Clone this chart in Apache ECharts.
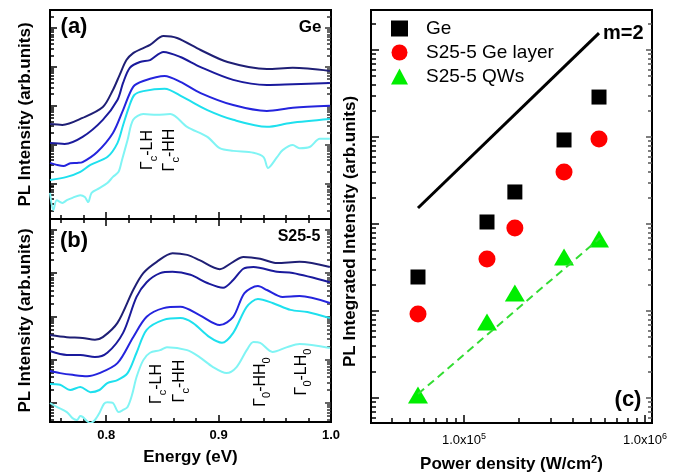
<!DOCTYPE html>
<html>
<head>
<meta charset="utf-8">
<script src="https://cdn.jsdelivr.net/npm/echarts@6/dist/echarts.min.js"></script>
<style>
  html, body { margin: 0; padding: 0; background: #fff; }
  #main { width: 687px; height: 472px; }
</style>
</head>
<body>
<div id="main"></div>
<script>
// spectra: [energy (eV), log10 PL intensity (arb.units)]
// (a) Ge, top curve first
const geSpec1 = [[0.750, 2.53], [0.761, 2.51], [0.779, 2.69], [0.797, 2.97], [0.806, 3.41], [0.812, 3.80], [0.818, 4.18], [0.824, 4.36], [0.833, 4.49], [0.839, 4.57], [0.851, 4.80], [0.863, 4.75], [0.884, 4.44], [0.908, 4.13], [0.943, 3.95], [0.966, 3.98], [0.999, 3.90]];
const geSpec2 = [[0.750, 2.04], [0.763, 2.02], [0.779, 2.20], [0.797, 2.64], [0.810, 3.15], [0.815, 3.59], [0.821, 3.98], [0.830, 4.13], [0.839, 4.18], [0.851, 4.39], [0.866, 4.26], [0.884, 4.00], [0.913, 3.67], [0.943, 3.54], [0.966, 3.56], [0.999, 3.59]];
const geSpec3 = [[0.750, 1.53], [0.756, 1.48], [0.762, 1.45], [0.768, 1.52], [0.774, 1.53], [0.779, 1.55], [0.792, 1.81], [0.806, 2.30], [0.815, 2.89], [0.824, 3.49], [0.833, 3.64], [0.852, 3.77], [0.866, 3.62], [0.884, 3.33], [0.913, 3.02], [0.943, 2.87], [0.966, 2.95], [0.999, 3.00]];
const geSpec4 = [[0.750, 1.09], [0.765, 1.17], [0.777, 1.30], [0.786, 1.48], [0.801, 1.68], [0.810, 2.04], [0.815, 2.50], [0.820, 2.95], [0.825, 3.28], [0.833, 3.38], [0.852, 3.44], [0.868, 3.23], [0.890, 2.89], [0.913, 2.64], [0.943, 2.46], [0.964, 2.56], [0.999, 2.66]];
const geSpec5 = [[0.750, 0.76], [0.753, 0.32], [0.756, 0.57], [0.761, 0.50], [0.765, 0.57], [0.770, 0.63], [0.777, 0.70], [0.781, 0.65], [0.784, 0.52], [0.787, 0.76], [0.794, 0.88], [0.801, 1.01], [0.806, 1.17], [0.811, 1.30], [0.814, 1.60], [0.819, 2.12], [0.824, 2.64], [0.833, 2.79], [0.845, 2.77], [0.857, 2.79], [0.872, 2.46], [0.890, 2.20], [0.901, 1.91], [0.913, 1.84], [0.931, 1.79], [0.940, 1.68], [0.944, 1.40], [0.952, 1.68], [0.957, 1.86], [0.966, 1.99], [0.972, 1.91], [0.981, 1.94], [0.990, 2.15], [0.999, 2.15]];
// (b) S25-5
const s25Spec1 = [[0.750, 2.57], [0.765, 2.52], [0.779, 2.50], [0.790, 2.46], [0.797, 2.52], [0.810, 2.85], [0.824, 3.61], [0.833, 4.00], [0.845, 4.26], [0.859, 4.46], [0.872, 4.42], [0.883, 4.30], [0.901, 4.09], [0.913, 4.26], [0.922, 4.37], [0.937, 4.33], [0.952, 4.23], [0.972, 4.26], [0.999, 4.14]];
const s25Spec2 = [[0.750, 2.20], [0.765, 2.11], [0.777, 2.11], [0.790, 2.06], [0.801, 2.16], [0.815, 2.62], [0.827, 3.45], [0.836, 3.79], [0.848, 4.00], [0.859, 4.03], [0.875, 3.96], [0.890, 3.77], [0.904, 3.66], [0.913, 3.84], [0.922, 4.10], [0.931, 4.14], [0.952, 4.03], [0.966, 4.00], [0.999, 3.79]];
const s25Spec3 = [[0.750, 1.74], [0.759, 1.69], [0.770, 1.65], [0.783, 1.62], [0.794, 1.69], [0.810, 1.92], [0.824, 2.52], [0.836, 2.99], [0.851, 3.19], [0.866, 3.22], [0.883, 3.03], [0.901, 2.80], [0.913, 2.99], [0.923, 3.54], [0.935, 3.70], [0.943, 3.61], [0.957, 3.45], [0.972, 3.47], [0.999, 3.31]];
const s25Spec4 = [[0.750, 1.44], [0.759, 1.42], [0.768, 1.30], [0.777, 1.37], [0.786, 1.25], [0.794, 1.30], [0.801, 1.46], [0.810, 1.53], [0.819, 1.69], [0.827, 2.16], [0.836, 2.69], [0.851, 2.92], [0.866, 2.96], [0.877, 2.85], [0.892, 2.52], [0.903, 2.39], [0.913, 2.62], [0.925, 3.22], [0.935, 3.40], [0.948, 3.31], [0.964, 3.15], [0.979, 3.10], [0.999, 2.96]];
const s25Spec5 = [[0.750, 1.00], [0.756, 0.91], [0.765, 0.79], [0.770, 0.65], [0.774, 0.61], [0.777, 0.70], [0.779, 0.68], [0.783, 0.58], [0.786, 0.54], [0.790, 0.61], [0.794, 0.77], [0.798, 0.98], [0.801, 1.02], [0.806, 1.00], [0.811, 0.79], [0.815, 0.84], [0.819, 0.91], [0.823, 1.19], [0.827, 1.60], [0.833, 1.99], [0.839, 2.16], [0.848, 2.22], [0.854, 2.29], [0.872, 2.22], [0.883, 2.06], [0.895, 1.83], [0.907, 1.69], [0.916, 1.83], [0.925, 2.22], [0.931, 2.41], [0.937, 2.39], [0.948, 2.18], [0.961, 2.29], [0.972, 2.36], [0.999, 2.27]];

// (c) integrated intensity vs power density
const powerDensity = [55700, 134000, 191000, 357000, 557000];
const geInt = [246, 1055, 2335, 9250, 28800];
const geLayerInt = [92.5, 396, 900, 3960, 9480];
const qwInt = [10.8, 74.8, 161, 418, 673];
const qwFit = [[55700, 11.1], [565000, 690]];
const slopeTwo = [[55700, 1528], [557000, 156700]];

// ticks
const energyMajor = [0.8, 0.9, 1.0];
const energyMinor = [0.76, 0.78, 0.82, 0.84, 0.86, 0.88, 0.92, 0.94, 0.96, 0.98];
const intMajor = [10, 100, 1000, 10000, 100000];
const powerMajor = [100000, 1000000];

const specColors = ['#1f1f75', '#1a1a9c', '#2424dd', '#1ee0ee', '#80f4f4'];
const font = 'Liberation Sans';

function minorLog(majors) {
  const out = [];
  [majors[0] / 10].concat(majors).forEach(function (m) {
    for (let k = 2; k <= 9; k++) out.push(m * k);
  });
  return out;
}

function tickAxis(gridIndex, position, type, min, max, ticks, len, color) {
  return {
    type: type,
    gridIndex: gridIndex,
    position: position,
    min: min,
    max: max,
    logBase: 10,
    axisLine: {show: false, onZero: false},
    axisTick: {show: true, inside: true, length: len, customValues: ticks, lineStyle: {color: color || '#000', width: 1.5}},
    axisLabel: {show: false},
    splitLine: {show: false}
  };
}

function specSeries(data, color, xi, yi) {
  return {
    type: 'line',
    xAxisIndex: xi,
    yAxisIndex: yi,
    data: data.map(function (p) { return [p[0], Math.pow(10, p[1])]; }),
    smooth: 0.3,
    symbol: 'none',
    lineStyle: {color: color, width: 2},
    silent: true
  };
}

const aMin = 1.216, aMax = 295100;
const bMin = 3.64, bMax = 177400;
const pMin = 30640, pMax = 1093000;
const cMin = 5.16, cMax = 288400;

const yTitle = {fontSize: 17, fontWeight: 'bold', color: '#000', fontFamily: font};

const xAxes = [
  tickAxis(0, 'bottom', 'value', 0.75, 1.0, energyMajor, 7),
  tickAxis(0, 'bottom', 'value', 0.75, 1.0, energyMinor, 4),
  Object.assign(tickAxis(1, 'bottom', 'value', 0.75, 1.0, energyMajor, 7), {
    name: 'Energy (eV)', nameLocation: 'middle', nameGap: 27, nameTextStyle: yTitle,
    axisLabel: {show: true, customValues: energyMajor, margin: 7, fontSize: 13, fontWeight: 'bold', color: '#000', fontFamily: font,
      formatter: function (v) { return v.toFixed(1); }}
  }),
  tickAxis(1, 'bottom', 'value', 0.75, 1.0, energyMinor, 4),
  tickAxis(1, 'top', 'value', 0.75, 1.0, energyMajor, 7),
  tickAxis(1, 'top', 'value', 0.75, 1.0, energyMinor, 4),
  Object.assign(tickAxis(2, 'bottom', 'log', pMin, pMax, powerMajor, 8), {
    name: 'Power density (W/cm{s|2})', nameLocation: 'middle', nameGap: 31,
    nameTextStyle: Object.assign({lineHeight: 20, rich: {s: {fontSize: 11, fontWeight: 'bold', verticalAlign: 'top', lineHeight: 11, fontFamily: font}}}, yTitle),
    axisLabel: {show: true, customValues: powerMajor, margin: 9, fontSize: 13, color: '#000', fontFamily: font, lineHeight: 16,
      formatter: function (v) { return '1.0x10{s|' + Math.round(Math.log10(v)) + '}'; },
      rich: {s: {fontSize: 9, verticalAlign: 'top', lineHeight: 8, fontFamily: font}}}
  }),
  tickAxis(2, 'bottom', 'log', pMin, pMax, minorLog(powerMajor), 5)
];

const yAxes = [
  Object.assign(tickAxis(0, 'left', 'log', aMin, aMax, intMajor, 7), {
    name: 'PL Intensity (arb.units)', nameLocation: 'middle', nameGap: 16, nameTextStyle: yTitle
  }),
  tickAxis(0, 'left', 'log', aMin, aMax, minorLog(intMajor), 4),
  tickAxis(0, 'right', 'log', aMin, aMax, intMajor, 6, '#333'),
  tickAxis(0, 'right', 'log', aMin, aMax, minorLog(intMajor), 4, '#333'),
  Object.assign(tickAxis(1, 'left', 'log', bMin, bMax, intMajor, 7), {
    name: 'PL Intensity (arb.units)', nameLocation: 'middle', nameGap: 16, nameTextStyle: yTitle
  }),
  tickAxis(1, 'left', 'log', bMin, bMax, minorLog(intMajor), 4),
  tickAxis(1, 'right', 'log', bMin, bMax, intMajor, 6, '#333'),
  tickAxis(1, 'right', 'log', bMin, bMax, minorLog(intMajor), 4, '#333'),
  Object.assign(tickAxis(2, 'left', 'log', cMin, cMax, intMajor, 8), {
    name: 'PL Integrated Intensity (arb.units)', nameLocation: 'middle', nameGap: 12,
    nameTextStyle: Object.assign({padding: [0, 30, 0, 0]}, yTitle)
  }),
  tickAxis(2, 'left', 'log', cMin, cMax, minorLog(intMajor), 5),
  tickAxis(2, 'right', 'log', cMin, cMax, intMajor, 6, '#555'),
  tickAxis(2, 'right', 'log', cMin, cMax, minorLog(intMajor), 4, '#555')
];

const series = [];
[geSpec1, geSpec2, geSpec3, geSpec4, geSpec5].forEach(function (d, i) {
  series.push(specSeries(d, specColors[i], 0, 0));
});
[s25Spec1, s25Spec2, s25Spec3, s25Spec4, s25Spec5].forEach(function (d, i) {
  series.push(specSeries(d, specColors[i], 2, 4));
});

function pairs(ys) {
  return powerDensity.map(function (x, i) { return [x, ys[i]]; });
}

series.push(
  {
    name: 'QW fit', type: 'line', xAxisIndex: 6, yAxisIndex: 8, data: qwFit, symbol: 'none', silent: true,
    lineStyle: {color: '#33dd33', width: 2, type: [8, 5]}
  },
  {
    name: 'm=2', type: 'line', xAxisIndex: 6, yAxisIndex: 8, data: slopeTwo, symbol: 'none', silent: true,
    lineStyle: {color: '#000', width: 3},
    endLabel: {show: true, formatter: 'm=2', fontSize: 20, fontWeight: 'bold', color: '#000', fontFamily: font, distance: 4}
  },
  {name: 'Ge', type: 'scatter', xAxisIndex: 6, yAxisIndex: 8, data: pairs(geInt), symbol: 'rect', symbolSize: 15, itemStyle: {color: '#000', opacity: 1}},
  {name: 'S25-5 Ge layer', type: 'scatter', xAxisIndex: 6, yAxisIndex: 8, data: pairs(geLayerInt), symbol: 'circle', symbolSize: 17, itemStyle: {color: '#ff0000', opacity: 1}},
  {name: 'S25-5 QWs', type: 'scatter', xAxisIndex: 6, yAxisIndex: 8, data: pairs(qwInt), symbol: 'triangle', symbolSize: [20, 17], itemStyle: {color: '#00ee00', opacity: 1}}
);

function label(x, y, text, size) {
  return {type: 'text', x: x, y: y, silent: true,
    style: {text: text, fill: '#000', font: 'bold ' + size + 'px "' + font + '"', align: 'center', verticalAlign: 'middle'}};
}

// rotated transition labels, subscripts drawn with rich text
function trans(x, y, text) {
  return {type: 'text', x: x, y: y, rotation: Math.PI / 2, silent: true,
    style: {text: text, fill: '#000', font: '16px "' + font + '"', lineHeight: 22, align: 'center', verticalAlign: 'middle',
      rich: {sub: {fontSize: 11, lineHeight: 11, verticalAlign: 'bottom', fontFamily: font, fill: '#000'}}}};
}

const chart = echarts.init(document.getElementById('main'));
const optionData = {
  animation: false,
  backgroundColor: '#fff',
  textStyle: {fontFamily: font},
  grid: [
    {left: 50, width: 281, top: 10, height: 209, show: true, borderColor: '#000', borderWidth: 2, outerBoundsMode: 'none'},
    {left: 50, width: 281, top: 219, height: 203, show: true, borderColor: '#000', borderWidth: 2, outerBoundsMode: 'none'},
    {left: 371, width: 281, top: 10, height: 413, show: true, borderColor: '#000', borderWidth: 2, outerBoundsMode: 'none'}
  ],
  legend: {
    left: 386, top: 14, orient: 'vertical', itemWidth: 17, itemHeight: 16, itemGap: 5,
    textStyle: {fontSize: 19, color: '#000', fontFamily: font, padding: [0, 0, 0, 13]},
    data: [{name: 'Ge', icon: 'rect'}, {name: 'S25-5 Ge layer', icon: 'circle'}, {name: 'S25-5 QWs', icon: 'triangle'}],
    itemStyle: {opacity: 1},
    selectedMode: false
  },
  xAxis: xAxes,
  yAxis: yAxes,
  series: series,
  graphic: [
    label(74, 27, '(a)', 22),
    label(310, 27, 'Ge', 17),
    label(74, 241, '(b)', 22),
    label(299, 237, 'S25-5', 16),
    label(628, 400, '(c)', 22),
    trans(148, 150, 'Γ{sub|c}-LH'),
    trans(170, 150, 'Γ{sub|c}-HH'),
    trans(157, 384, 'Γ{sub|c}-LH'),
    trans(180, 381, 'Γ{sub|c}-HH'),
    trans(261, 382, 'Γ{sub|0}-HH{sub|0}'),
    trans(302, 372, 'Γ{sub|0}-LH{sub|0}')
  ]
};
chart.setOption(optionData);
</script>
</body>
</html>
